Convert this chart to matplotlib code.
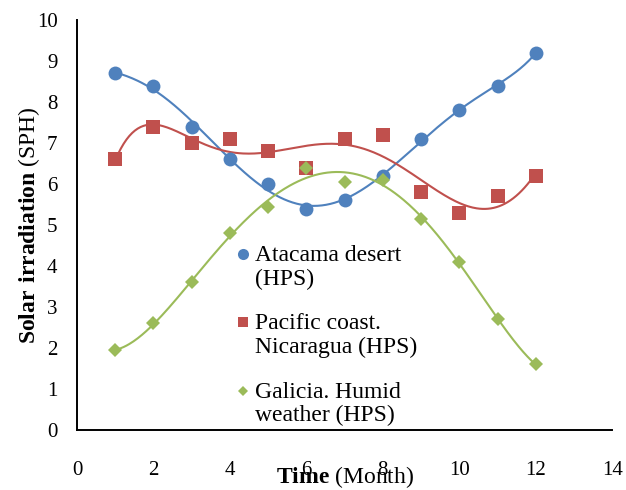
import numpy as np
import matplotlib
matplotlib.use("Agg")
import matplotlib.pyplot as plt
import matplotlib.transforms as mtransforms
from matplotlib.legend_handler import HandlerLine2D

plt.rcParams['font.family'] = ['Liberation Serif', 'DejaVu Serif']
plt.rcParams['mathtext.fontset'] = 'custom'
plt.rcParams['mathtext.rm'] = 'Liberation Serif'
plt.rcParams['mathtext.bf'] = 'Liberation Serif:bold'

months = [1, 2, 3, 4, 5, 6, 7, 8, 9, 10, 11, 12]
atacama = [8.7, 8.4, 7.4, 6.6, 6.0, 5.4, 5.6, 6.2, 7.1, 7.8, 8.4, 9.2]
pacific = [6.6, 7.4, 7.0, 7.1, 6.8, 6.4, 7.1, 7.2, 5.8, 5.3, 5.7, 6.2]
galicia = [1.95, 2.6, 3.6, 4.8, 5.45, 6.4, 6.05, 6.1, 5.15, 4.1, 2.7, 1.6]

labels = ["Atacama desert\n(HPS)", "Pacific coast.\nNicaragua (HPS)", "Galicia. Humid\nweather (HPS)"]
colors = ["#4F81BD", "#C0504D", "#9BBB59"]
markers = ["o", "s", "D"]
msizes = [10, 9.5, 7]


class FirstLineHandler(HandlerLine2D):
    """Legend handle aligned with the first line of a two-line label."""
    def create_artists(self, legend, orig_handle, xdescent, ydescent,
                       width, height, fontsize, trans):
        arts = super().create_artists(legend, orig_handle, xdescent, ydescent,
                                      width, height, fontsize, trans)
        shift = mtransforms.Affine2D().translate(0, 0.55 * fontsize)
        for a in arts:
            a.set_transform(shift + trans)
        return arts


fig = plt.figure(figsize=(6.26, 4.9), dpi=100)
ax = fig.add_axes([0.123, 0.1224, 0.855, 0.8368])

x = np.array(months, dtype=float)
xs = np.linspace(1, 12, 300)
handles = []
for vals, lab, c, m, ms in zip([atacama, pacific, galicia], labels, colors, markers, msizes):
    # 6th-order polynomial trend line through each series
    coef = np.polyfit(x, np.array(vals), 6)
    ax.plot(xs, np.polyval(coef, xs), color=c, lw=1.5, zorder=2)
    h, = ax.plot(x, vals, linestyle='none', marker=m, color=c, markersize=ms,
                 markeredgewidth=0, label=lab, zorder=3)
    handles.append(h)

ax.set_xlim(0, 14)
ax.set_ylim(0, 10)
ax.set_xticks(range(0, 15, 2))
ax.set_yticks(range(0, 11))
ax.tick_params(length=0, labelsize=15)
ax.tick_params(axis='y', pad=14)
ax.tick_params(axis='x', pad=22)
for s in ['top', 'right']:
    ax.spines[s].set_visible(False)
for s in ['left', 'bottom']:
    ax.spines[s].set_linewidth(1.4)
    ax.spines[s].set_color('black')

ax.set_ylabel(r"$\mathbf{Solar\ irradiation}$ (SPH)", fontsize=17, labelpad=-4)
ax.set_xlabel(r"$\mathbf{Time}$ (Month)", fontsize=17, labelpad=-11)

leg = ax.legend(handles=handles, loc='upper left', bbox_to_anchor=(0.282, 0.474),
                frameon=False, fontsize=17, handlelength=0.5, handletextpad=0.25,
                labelspacing=1.0, borderaxespad=0, markerscale=0.8,
                handler_map={h: FirstLineHandler() for h in handles})
for t in leg.get_texts():
    t.set_linespacing(1.15)

fig.savefig("out.png", dpi=100)
